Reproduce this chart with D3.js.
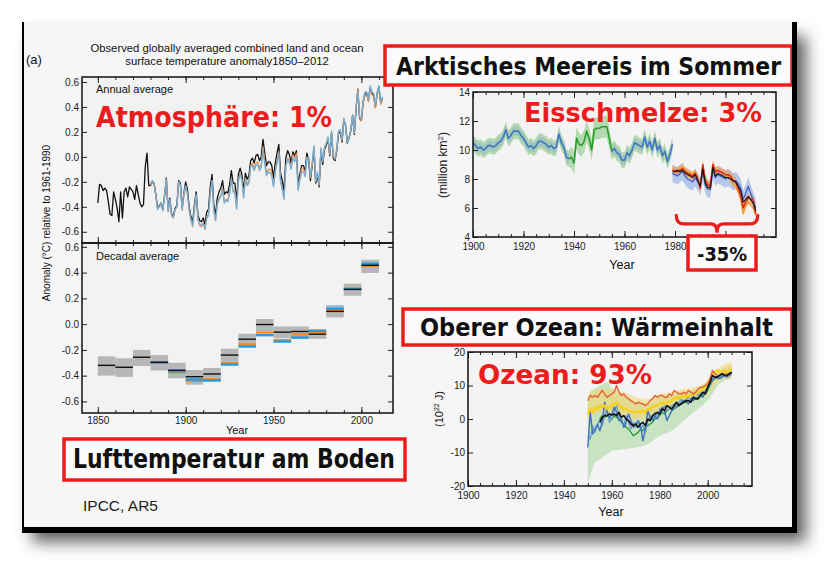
<!DOCTYPE html>
<html lang="de">
<head>
<meta charset="UTF-8">
<title>IPCC AR5 - Erwärmung</title>
<script src="https://d3js.org/d3.v7.min.js"></script>
<style>
  body { margin: 0; background: #fff; }
  svg { display: block; }
  .sans { font-family: "Liberation Sans", Arial, sans-serif; fill: #111; }
  .comic { font-family: "Comic Sans MS", "DejaVu Sans", sans-serif; font-weight: bold; }
  .axis text { font-family: "Liberation Sans", Arial, sans-serif; fill: #222; }
  .axis path.domain { display: none; }
  .axis line { stroke: #222; }
</style>
</head>
<body>
<svg></svg>
<script>
// ---------- (a) surface temperature anomaly, 1850-2012 ----------
const annualBlack = [
  -0.37, -0.22, -0.23, -0.27, -0.25, -0.27, -0.36, -0.46, -0.47, -0.28,
  -0.34, -0.41, -0.52, -0.28, -0.49, -0.28, -0.25, -0.32, -0.24, -0.26,
  -0.28, -0.34, -0.23, -0.30, -0.37, -0.40, -0.38, -0.08, 0.03, -0.23,
  -0.23, -0.20, -0.21, -0.30, -0.41, -0.39, -0.37, -0.42, -0.31, -0.17,
  -0.42, -0.33, -0.46, -0.47, -0.41, -0.39, -0.19, -0.21, -0.41, -0.29,
  -0.20, -0.26, -0.40, -0.48, -0.52, -0.38, -0.28, -0.47, -0.51, -0.52,
  -0.49, -0.54, -0.44, -0.42, -0.24, -0.14, -0.38, -0.47, -0.33, -0.28,
  -0.25, -0.19, -0.30, -0.28, -0.29, -0.22, -0.11, -0.21, -0.21, -0.35,
  -0.14, -0.09, -0.14, -0.27, -0.13, -0.18, -0.15, -0.03, -0.01, -0.05,
  0.01, 0.02, -0.03, 0.00, 0.14, 0.03, -0.07, -0.04, -0.04, -0.07,
  -0.17, -0.05, 0.03, 0.10, -0.13, -0.19, -0.27, -0.01, 0.05, 0.02,
  -0.05, 0.04, 0.01, 0.05, -0.22, -0.14, -0.07, -0.07, -0.11, 0.03,
  -0.03, -0.19, -0.07, 0.06, -0.21, -0.15, -0.24, 0.05, -0.06, 0.06,
  0.09, 0.14, 0.01, 0.19, -0.01, -0.03, 0.05, 0.19, 0.20, 0.12,
  0.30, 0.25, 0.11, 0.15, 0.21, 0.33, 0.18, 0.39, 0.54, 0.31,
  0.29, 0.44, 0.50, 0.51, 0.45, 0.55, 0.51, 0.49, 0.40, 0.51,
  0.56, 0.43, 0.47
];
// these two start in 1880
const annualOrange = [
  -0.23, -0.21, -0.21, -0.31, -0.41, -0.40, -0.38, -0.43, -0.32, -0.18,
  -0.44, -0.35, -0.47, -0.49, -0.42, -0.40, -0.20, -0.23, -0.43, -0.30,
  -0.24, -0.30, -0.43, -0.51, -0.56, -0.42, -0.31, -0.50, -0.55, -0.56,
  -0.53, -0.58, -0.48, -0.46, -0.29, -0.19, -0.42, -0.51, -0.38, -0.33,
  -0.31, -0.25, -0.36, -0.34, -0.35, -0.28, -0.17, -0.27, -0.27, -0.41,
  -0.18, -0.13, -0.18, -0.31, -0.17, -0.22, -0.19, -0.07, -0.05, -0.09,
  -0.05, -0.04, -0.09, -0.06, 0.08, -0.03, -0.13, -0.10, -0.10, -0.13,
  -0.23, -0.11, -0.03, 0.04, -0.19, -0.25, -0.33, -0.07, -0.01, -0.04,
  -0.08, 0.02, -0.01, 0.03, -0.25, -0.17, -0.09, -0.10, -0.13, 0.00,
  -0.01, -0.17, -0.06, 0.08, -0.20, -0.13, -0.23, 0.07, -0.04, 0.07,
  0.10, 0.15, 0.02, 0.20, 0.00, -0.02, 0.06, 0.20, 0.21, 0.13,
  0.31, 0.25, 0.12, 0.16, 0.21, 0.34, 0.19, 0.40, 0.55, 0.32,
  0.29, 0.43, 0.49, 0.50, 0.44, 0.53, 0.50, 0.48, 0.39, 0.50,
  0.54, 0.42, 0.46
];
const annualBlue = [
  -0.22, -0.19, -0.22, -0.31, -0.42, -0.40, -0.37, -0.43, -0.30, -0.18,
  -0.43, -0.34, -0.47, -0.48, -0.42, -0.40, -0.20, -0.22, -0.42, -0.30,
  -0.23, -0.29, -0.42, -0.50, -0.55, -0.40, -0.30, -0.50, -0.54, -0.54,
  -0.54, -0.58, -0.49, -0.47, -0.30, -0.19, -0.43, -0.51, -0.38, -0.34,
  -0.32, -0.26, -0.37, -0.35, -0.36, -0.30, -0.18, -0.28, -0.29, -0.42,
  -0.20, -0.14, -0.19, -0.33, -0.18, -0.23, -0.21, -0.08, -0.07, -0.11,
  -0.07, -0.06, -0.11, -0.08, 0.05, -0.06, -0.15, -0.12, -0.13, -0.15,
  -0.24, -0.12, -0.05, 0.03, -0.20, -0.26, -0.34, -0.08, -0.02, -0.05,
  -0.10, -0.01, -0.04, 0.00, -0.27, -0.19, -0.12, -0.12, -0.16, -0.02,
  0.00, -0.16, -0.05, 0.09, -0.19, -0.12, -0.22, 0.07, -0.03, 0.08,
  0.11, 0.16, 0.03, 0.21, 0.01, -0.01, 0.07, 0.21, 0.22, 0.14,
  0.30, 0.26, 0.11, 0.15, 0.22, 0.33, 0.19, 0.39, 0.53, 0.32,
  0.31, 0.45, 0.52, 0.52, 0.46, 0.57, 0.52, 0.51, 0.41, 0.52,
  0.57, 0.44, 0.48
];

const decades   = [1850, 1860, 1870, 1880, 1890, 1900, 1910, 1920, 1930, 1940, 1950, 1960, 1970, 1980, 1990, 2000];
const decBlack  = [-0.32, -0.335, -0.257, -0.296, -0.358, -0.408, -0.387, -0.24, -0.117, -0.003, -0.062, -0.057, -0.078, 0.099, 0.27, 0.457];
const decOrange = [null, null, null, -0.30, -0.374, -0.44, -0.43, -0.30, -0.158, -0.065, -0.125, -0.08, -0.062, 0.105, 0.275, 0.452];
const decBlue   = [null, null, null, -0.298, -0.366, -0.43, -0.436, -0.314, -0.174, -0.086, -0.135, -0.104, -0.052, 0.12, 0.273, 0.47];
const decLow    = [-0.40, -0.41, -0.325, -0.36, -0.42, -0.47, -0.45, -0.29, -0.17, -0.057, -0.11, -0.114, -0.114, 0.052, 0.22, 0.397];
const decHigh   = [-0.25, -0.265, -0.20, -0.24, -0.30, -0.356, -0.34, -0.19, -0.075, 0.04, -0.018, -0.018, -0.04, 0.148, 0.314, 0.50];
const tempTicks = [-0.6, -0.4, -0.2, 0.0, 0.2, 0.4, 0.6];
const tempYearTicks = [1850, 1900, 1950, 2000];

// ---------- Arctic summer sea ice extent (million km2) ----------
const iceBlue = [   // 1900-1979, gap where only the green record exists
  10.5, 10.3, 10.1, 10.2, 10.0, 10.1, 10.3, 10.3, 10.2, 10.3,
  10.5, 10.6, 10.9, 11.4, 10.8, 11.0, 11.3, 11.3, 11.3, 11.0,
  10.8, 10.5, 10.2, 10.3, 10.1, 10.3, 10.6, 10.6, 10.5, 10.4,
  10.2, 10.3, 10.1, 10.2, 11.1, 10.5, 10.2, 9.5, 9.4, null,
  null, null, null, null, null, null, null, null, null, null,
  null, null, null, null, null, 9.9, 10.1, 9.8, 9.7, 9.3,
  9.3, 9.8, 9.6, 10.0, 10.5, 10.4, 10.3, 10.2, 10.9, 10.2,
  10.6, 10.0, 10.8, 10.0, 10.3, 9.6, 9.9, 9.2, 9.7, 10.4
];
const iceGreenStart = 1938;
const iceGreen = [9.4, 9.5, 9.1, 10.8, 10.4, 10.3, 10.6, 11.3, 10.8, 10.0, 11.4, 11.5, 11.5, 11.6, 11.6, 11.6, 10.8, 9.9];
const iceSatStart = 1979;
const iceSatRed = [
  8.6, 8.55, 8.5, 8.6, 8.7, 8.5, 8.4, 8.3, 8.2, 8.4,
  8.0, 7.35, 9.0, 7.9, 7.6, 7.5, 9.0, 8.5, 8.6, 8.5,
  8.4, 8.3, 8.3, 8.2, 7.9, 7.8, 7.4, 6.9, 6.0, 6.4,
  6.7, 6.6, 6.55, 5.6
];
const iceSatBlack = [
  8.5, 8.5, 8.6, 8.5, 8.6, 8.4, 8.3, 8.2, 8.1, 8.3,
  7.9, 7.5, 8.7, 7.7, 7.4, 7.4, 8.8, 8.2, 8.4, 8.3,
  8.2, 8.1, 8.1, 8.0, 7.9, 7.8, 7.5, 7.2, 6.4, 6.6,
  6.8, 6.6, 6.3, 5.8
];
const iceSatBlue = [
  8.4, 8.3, 8.2, 8.4, 8.5, 8.2, 8.0, 7.9, 7.8, 8.1,
  7.8, 7.5, 8.5, 7.6, 7.3, 7.3, 8.6, 8.1, 8.3, 8.2,
  8.1, 8.0, 8.1, 8.0, 7.8, 7.9, 7.7, 7.4, 6.6, 7.0,
  7.5, 7.0, 6.5, 6.0
];
const iceSatOrange = [
  8.7, 8.6, 8.6, 8.7, 8.8, 8.6, 8.5, 8.4, 8.3, 8.5,
  8.1, 7.4, 9.0, 8.0, 7.7, 7.6, 9.0, 8.6, 8.6, 8.5,
  8.4, 8.3, 8.2, 8.0, 7.6, 7.5, 7.1, 6.6, 5.6, 6.1,
  6.4, 6.2, 6.0, 5.5
];
const iceEarlySpread = 0.55, iceGreenSpread = 0.75, iceSatBlueSpread = 0.6, iceSatOrangeSpread = 0.32;
const iceTicks = [4, 6, 8, 10, 12, 14];
const iceYearTicks = [1900, 1920, 1940, 1960, 1980, 2000];

// ---------- upper ocean heat content (10^22 J) ----------
const oceanStart = 1950;
const oceanRed = [
  5.5, 7, 6.5, 7, 6.5, 7.5, 8.5, 7.5, 6.5, 7,
  7.5, 8, 10, 8, 7, 7.5, 6.5, 6, 5.5, 5,
  4.5, 5, 4.7, 4.5, 4, 4.5, 5.5, 6, 7, 6.5,
  7, 7, 6.5, 6.5, 7.5, 7, 8.5, 8, 7.5, 7.5,
  8, 7.5, 8.5, 8, 7.5, 8, 9, 9.5, 9.5, 10,
  10.5, 12, 14.5, 13.5, 13, 13, 13.5, 13.5, 13, 13.5, 14
];
const oceanYellow = [
  1.5, 3, 2, 3.5, 3, 4, 3.5, 4, 3, 3.5,
  4, 4.5, 5, 4, 3.5, 3, 3, 2.5, 2.5, 2,
  2, 2.5, 2, 2.5, 2, 3, 3, 3.5, 4, 4,
  4.5, 5, 4.5, 5, 5, 5.5, 6, 6.5, 6, 6.5,
  7, 6.5, 7, 7, 7.5, 7.5, 8, 8.5, 9, 9.5,
  10.5, 12, 13.5, 14, 14.5, 14, 14, 14.5, 14, 14.5, 15
];
const oceanBlue = [
  -8.5, 2, -4.5, -3, -1.5, -3.5, -1, 5, 2, 0.5,
  1.5, 3.5, 2, -0.5, 0, -2.5, -1, 1.5, -0.5, -2.5,
  -1.5, -0.5, -2, -6.5, -3, 2.5, 0.5, -0.5, 1, 0,
  2, 3.5, 2.5, -0.5, 1, 2.5, 3, 3.5, 4, 5,
  5.5, 5, 4.5, 6, 5.5, 6.5, 6, 7, 6.5, 8,
  9, 10.5, 11.5, 12, 12.5, 12, 12.5, 13, 12.5, 13, 13.5
];
const oceanSteel = [
  -5, -6, -2, -4, -2, 0, -2, 1, 3, -1,
  0, 2, 4, 1, -1, -2, 1, -1, -3, -1,
  -2.5, -1, -3, -2, -4, -1, 1, 0, 2, 1,
  3, 2, 4, 2.5, 3, 4, 4.5, 4, 5, 6,
  5, 6, 6.5, 6, 7, 7.5, 7, 8, 7.5, 8.5,
  9.5, 10, 12, 12.5, 12, 12.5, 13, 13, 13.5, 13, 14
];
const oceanGreenStart = 1955;
const oceanGreen = [
  0, 1, 0.5, 1, 0.5,
  0, 1, 0.5, 0, -1, -1.5, -2.5, -3, -4, -5,
  -4.5, -4, -3, -3.5, -2.5, -2, -1.5, -1, 0, 0.5,
  1, 2, 1.5, 2.5, 3, 3, 3.5, 4, 4.5, 4.5,
  5, 5, 5.5, 5.5, 6, 6, 6.5, 7, 7, 7.5,
  8.5, 10, 11.5, 12.5, 12.5, 12.5, 13, 13, 13, 13.5, 14
];
const oceanBlackStart = 1955;
const oceanBlack = [
  -1, 0.5, 1, 1, 1.5,
  1.2, 1.5, 1, 2, 0.5, 1, 0, -0.5, -1.5, -2,
  -1.5, -2.5, -1.5, -1, -2, 0, -0.5, 1, 1.5, 2,
  1.5, 3, 2.5, 4, 3.5, 3, 4, 5, 4, 4.5,
  5, 5.5, 5.5, 5, 6.5, 6, 6, 7, 8, 7.5,
  9.5, 11, 13, 12.5, 12.5, 13, 13.5, 13, 13, 13.5, 14
];
const oceanBandYears = [1950, 1951, 1953, 1955, 1958, 1960, 1965, 1970, 1975, 1980, 1985, 1990, 1995, 2000, 2005, 2010];
const oceanGreenHigh = [4, 8, 9, 10, 11, 9, 7, 5, 4.5, 6.5, 7, 8, 9, 11, 14.5, 16];
const oceanGreenLow  = [-19, -17, -13, -12, -10.5, -9.5, -9, -8.5, -7.5, -5, -3.5, -0.5, 2.5, 5.5, 10.5, 12];
const oceanYellowHigh = [7, 8, 8.5, 9, 9, 9, 8, 6.5, 6, 7.5, 8, 9, 9.5, 11.5, 15.5, 17];
const oceanYellowLow  = [0, 1, 1.5, 2, 2, 2, 1, 0, 0, 1.5, 3, 4.5, 5.5, 7.5, 11.5, 12.5];
const oceanTicks = [-20, -10, 0, 10, 20];
const oceanYearTicks = [1900, 1920, 1940, 1960, 1980, 2000];

// ================= drawing =================
const W = 839, H = 576;
const RED = "#ec1c1c";
const svg = d3.select("svg").attr("width", W).attr("height", H);
const defs = svg.append("defs");

defs.append("filter").attr("id", "blur")
    .attr("x", "-20%").attr("y", "-20%").attr("width", "140%").attr("height", "140%")
    .append("feGaussianBlur").attr("stdDeviation", 8);

// frame + drop shadow
svg.append("rect").attr("x", 32).attr("y", 36).attr("width", 774).attr("height", 506)
    .attr("fill", "#5e5e5e").attr("filter", "url(#blur)");
svg.append("rect").attr("x", 22).attr("y", 22).attr("width", 774).attr("height", 510)
    .attr("fill", "#f6f6f6");

function series(start, values) {
    return values.map((v, i) => [start + i, v]);
}
function clip(id, x, y, w, h) {
    defs.append("clipPath").attr("id", id).append("rect")
        .attr("x", x).attr("y", y).attr("width", w).attr("height", h);
}
function drawLine(g, data, line, color, width) {
    g.append("path").datum(data).attr("d", line)
        .attr("fill", "none").attr("stroke", color)
        .attr("stroke-width", width).attr("stroke-linejoin", "round");
}
// inward ticks on all four sides of a box
function boxAxes(x, y, yTicks, xMajor, xMinor, fontSize, fmt, xPad, xFmt) {
    const [x0, x1] = x.range();
    const [y0, y1] = y.range();  // y0 bottom, y1 top
    const lab = svg.append("g").attr("class", "axis").style("font-size", fontSize + "px");
    lab.append("g").attr("transform", `translate(${x0},0)`)
        .call(d3.axisLeft(y).tickValues(yTicks).tickSize(-5).tickPadding(3).tickFormat(fmt));
    lab.append("g").attr("transform", `translate(${x1},0)`)
        .call(d3.axisRight(y).tickValues(yTicks).tickSize(-5).tickFormat(""));
    lab.append("g").attr("transform", `translate(0,${y1})`)
        .call(d3.axisTop(x).tickValues(xMinor).tickSize(-3).tickFormat(""));
    lab.append("g").attr("transform", `translate(0,${y1})`)
        .call(d3.axisTop(x).tickValues(xMajor).tickSize(-6).tickFormat(""));
    lab.append("g").attr("transform", `translate(0,${y0})`)
        .call(d3.axisBottom(x).tickValues(xMinor).tickSize(-3).tickFormat(""));
    lab.append("g").attr("transform", `translate(0,${y0})`)
        .call(d3.axisBottom(x).tickValues(xMajor).tickSize(-6).tickPadding(xPad).tickFormat(xFmt));
    return lab;
}
function box(x, y, width) {
    const [x0, x1] = x.range();
    const [y0, y1] = y.range();
    svg.append("rect").attr("x", x0).attr("y", y1).attr("width", x1 - x0).attr("height", y0 - y1)
        .attr("fill", "none").attr("stroke", "#111").attr("stroke-width", width);
}
const yearFmt = d => String(d);

// ---------------- (a) temperature ----------------
const xA = d3.scaleLinear().domain([1841, 2018]).range([82, 393]);
const yTop = d3.scaleLinear().domain([-0.69, 0.64]).range([243, 77]);
const yBot = d3.scaleLinear().domain([-0.69, 0.63]).range([413, 243]);
const fmt1 = d => d.toFixed(1);

svg.append("rect").attr("x", 82).attr("y", 77).attr("width", 311).attr("height", 336).attr("fill", "#f2f2f2");
clip("clipTop", 82, 77, 311, 166);
clip("clipBot", 82, 243, 311, 170);

const gTop = svg.append("g").attr("clip-path", "url(#clipTop)");
const lineTop = d3.line().x(d => xA(d[0])).y(d => yTop(d[1]));
drawLine(gTop, series(1850, annualBlack), lineTop, "#111", 1.3);
drawLine(gTop, series(1880, annualOrange), lineTop, "#e08a4a", 1.2);
drawLine(gTop, series(1880, annualBlue), lineTop, "#72aed6", 1.3);

const gBot = svg.append("g").attr("clip-path", "url(#clipBot)");
const dec = decades.map((d, i) => ({
    start: d, black: decBlack[i], orange: decOrange[i], blue: decBlue[i], low: decLow[i], high: decHigh[i]
}));
gBot.selectAll("rect.dec").data(dec).join("rect").attr("class", "dec")
    .attr("x", d => xA(d.start)).attr("width", d => xA(d.start + 10) - xA(d.start))
    .attr("y", d => yBot(d.high)).attr("height", d => yBot(d.low) - yBot(d.high))
    .attr("fill", "#b7b7b7");
[["orange", "#ee8a2a", 2.4], ["blue", "#2a9ad6", 2.4], ["black", "#111", 1.4]].forEach(([key, color, w]) => {
    gBot.selectAll("line." + key).data(dec.filter(d => d[key] !== null)).join("line").attr("class", key)
        .attr("x1", d => xA(d.start)).attr("x2", d => xA(d.start + 10))
        .attr("y1", d => yBot(d[key])).attr("y2", d => yBot(d[key]))
        .attr("stroke", color).attr("stroke-width", w);
});

boxAxes(xA, yTop, tempTicks, tempYearTicks, d3.range(1850, 2011, 10), 8, fmt1, 4, "");
boxAxes(xA, yBot, tempTicks, tempYearTicks, d3.range(1850, 2011, 10), 8, fmt1, 4, yearFmt);
box(xA, yTop, 1.5);
box(xA, yBot, 1.5);

svg.append("text").attr("class", "sans").attr("x", 26).attr("y", 64).style("font-size", "13px").text("(a)");
svg.append("text").attr("class", "sans").attr("x", 227).attr("y", 51.5).attr("text-anchor", "middle")
    .style("font-size", "11.3px").text("Observed globally averaged combined land and ocean");
svg.append("text").attr("class", "sans").attr("x", 227).attr("y", 65).attr("text-anchor", "middle")
    .style("font-size", "11.3px").text("surface temperature anomaly1850\u20132012");
svg.append("text").attr("class", "sans").attr("x", 96).attr("y", 93).style("font-size", "11px").text("Annual average");
svg.append("text").attr("class", "sans").attr("x", 96).attr("y", 260).style("font-size", "11px").text("Decadal average");
svg.append("text").attr("class", "sans").attr("x", 237).attr("y", 434).attr("text-anchor", "middle")
    .style("font-size", "11px").text("Year");
svg.append("text").attr("class", "sans").attr("transform", "translate(50,223) rotate(-90)")
    .attr("text-anchor", "middle").style("font-size", "10px").text("Anomaly (\u00b0C) relative to 1961-1990");

// ---------------- Arctic sea ice ----------------
const xB = d3.scaleLinear().domain([1900, 2020]).range([473, 776]);
const yB = d3.scaleLinear().domain([4, 14]).range([237, 92]);
svg.append("rect").attr("x", 473).attr("y", 92).attr("width", 303).attr("height", 145).attr("fill", "#f3f3f3");
clip("clipIce", 473, 92, 303, 145);
const gIce = svg.append("g").attr("clip-path", "url(#clipIce)");

const early = iceBlue.map((v, i) => {
    const yr = 1900 + i;
    const gi = yr - iceGreenStart;
    return [yr, v !== null ? v : iceGreen[gi], v === null];
});
const areaB = (lo, hi) => d3.area().x(d => xB(d[0])).y0(d => yB(lo(d))).y1(d => yB(hi(d)));
gIce.append("path").datum(early)
    .attr("d", areaB(d => d[1] - (d[2] ? iceGreenSpread : iceEarlySpread), d => d[1] + (d[2] ? iceGreenSpread : iceEarlySpread)))
    .attr("fill", "#9fcf98").attr("opacity", 0.75);
gIce.append("path").datum(early)
    .attr("d", areaB(d => d[1] - iceEarlySpread * 0.6, d => d[1] + iceEarlySpread * 0.6).defined(d => !d[2]))
    .attr("fill", "#7fa6d6").attr("opacity", 0.35);

const sat = iceSatRed.map((v, i) => [iceSatStart + i, v, iceSatBlue[i]]);
gIce.append("path").datum(sat)
    .attr("d", areaB(d => d[2] - iceSatBlueSpread, d => d[2] + iceSatBlueSpread))
    .attr("fill", "#a9bfe8").attr("opacity", 0.85);
gIce.append("path").datum(sat)
    .attr("d", areaB(d => d[1] - iceSatOrangeSpread, d => d[1] + iceSatOrangeSpread))
    .attr("fill", "#f0a060").attr("opacity", 0.7);

const lineB = d3.line().defined(d => d[1] !== null).x(d => xB(d[0])).y(d => yB(d[1]));
drawLine(gIce, series(iceGreenStart, iceGreen), lineB, "#27a02a", 1.6);
drawLine(gIce, series(1900, iceBlue), lineB, "#3f78c0", 1.6);
drawLine(gIce, series(iceSatStart, iceSatBlue), lineB, "#3d63c9", 1.3);
drawLine(gIce, series(iceSatStart, iceSatOrange), lineB, "#f7941d", 1.4);
drawLine(gIce, series(iceSatStart, iceSatRed), lineB, "#d62a1c", 1.5);
drawLine(gIce, series(iceSatStart, iceSatBlack), lineB, "#111", 1.1);

// the 2000 label sits under the "-35%" box in the original
boxAxes(xB, yB, iceTicks, iceYearTicks, d3.range(1900, 2020, 5), 12, yearFmt, 6, d => d < 2000 ? String(d) : "");
box(xB, yB, 1.5);
svg.append("text").attr("class", "sans").attr("x", 622).attr("y", 269).attr("text-anchor", "middle")
    .style("font-size", "12.5px").text("Year");
svg.append("text").attr("class", "sans").attr("transform", "translate(447,165) rotate(-90)")
    .attr("text-anchor", "middle").style("font-size", "12px")
    .html('(million km<tspan dy="-4" style="font-size:8px">2</tspan><tspan dy="4">)</tspan>');

// ---------------- ocean heat content ----------------
const xC = d3.scaleLinear().domain([1900, 2018.5]).range([468, 752]);
const yC = d3.scaleLinear().domain([-20, 20]).range([486, 352]);
svg.append("rect").attr("x", 468).attr("y", 352).attr("width", 284).attr("height", 134).attr("fill", "#f3f3f3");
clip("clipOcean", 468, 352, 284, 134);
const gOc = svg.append("g").attr("clip-path", "url(#clipOcean)");

const bandC = (hi, lo) => oceanBandYears.map((yr, i) => [yr, lo[i], hi[i]]);
const areaC = d3.area().curve(d3.curveMonotoneX).x(d => xC(d[0])).y0(d => yC(d[1])).y1(d => yC(d[2]));
gOc.append("path").datum(bandC(oceanGreenHigh, oceanGreenLow)).attr("d", areaC)
    .attr("fill", "#b3dbab").attr("opacity", 0.7);
gOc.append("path").datum(bandC(oceanYellowHigh, oceanYellowLow)).attr("d", areaC)
    .attr("fill", "#f9d36a").attr("opacity", 0.55);

const lineC = d3.line().x(d => xC(d[0])).y(d => yC(d[1]));
drawLine(gOc, series(oceanGreenStart, oceanGreen), lineC, "#2f9a35", 1.4);
drawLine(gOc, series(oceanStart, oceanSteel), lineC, "#6f9fce", 1.4);
drawLine(gOc, series(oceanStart, oceanBlue), lineC, "#3f72bd", 1.4);
drawLine(gOc, series(oceanStart, oceanYellow), lineC, "#f4d21a", 2.4);
drawLine(gOc, series(oceanStart, oceanRed), lineC, "#e2673f", 1.5);
drawLine(gOc, series(oceanBlackStart, oceanBlack), lineC, "#111", 1.6);

boxAxes(xC, yC, oceanTicks, oceanYearTicks, d3.range(1900, 2018, 5), 11.5, yearFmt, 6, yearFmt);
box(xC, yC, 1.5);
svg.append("text").attr("class", "sans").attr("x", 611).attr("y", 516).attr("text-anchor", "middle")
    .style("font-size", "12.5px").text("Year");
svg.append("text").attr("class", "sans").attr("transform", "translate(443,409) rotate(-90)")
    .attr("text-anchor", "middle").style("font-size", "11px")
    .html('(10<tspan dy="-4" style="font-size:7px">22</tspan><tspan dy="4"> J)</tspan>');

// ---------------- overlay labels ----------------
function redLabel(x, y, size, len, txt) {
    svg.append("text").attr("class", "comic").attr("x", x).attr("y", y)
        .attr("textLength", len).attr("lengthAdjust", "spacingAndGlyphs")
        .style("font-size", size + "px").attr("fill", RED).text(txt);
}
function boxLabel(bx, by, bw, bh, tx, ty, size, len, txt) {
    svg.append("rect").attr("x", bx).attr("y", by).attr("width", bw).attr("height", bh)
        .attr("fill", "#fbfbfb").attr("stroke", RED).attr("stroke-width", 3.5);
    svg.append("text").attr("class", "comic").attr("x", tx).attr("y", ty)
        .attr("textLength", len).attr("lengthAdjust", "spacingAndGlyphs")
        .style("font-size", size + "px").attr("fill", "#111").text(txt);
}
redLabel(96, 127, 28, 236, "Atmosph\u00e4re: 1%");
redLabel(524, 121.5, 26, 238, "Eisschmelze: 3%");
redLabel(478, 383.5, 26, 174, "Ozean: 93%");

boxLabel(385, 46, 407, 39, 396, 75, 25, 385, "Arktisches Meereis im Sommer");
boxLabel(403, 309, 389, 36, 420, 336, 25, 353, "Oberer Ozean: W\u00e4rmeinhalt");
boxLabel(64, 439, 341, 41, 73, 468, 27, 322, "Lufttemperatur am Boden");
boxLabel(688, 236, 68, 34, 697, 261, 20, 50, "-35%");

// brace over the satellite era
const b0 = xB(1980.5), b1 = xB(2012.8), bm = (b0 + b1) / 2;
const bt = yB(5.5), bc = yB(4.9), bp = yB(4.3);
svg.append("path")
    .attr("d", `M${b0},${bt} Q${b0},${bc} ${b0 + 8},${bc} L${bm - 6},${bc} Q${bm},${bc} ${bm},${bp}` +
               ` Q${bm},${bc} ${bm + 6},${bc} L${b1 - 8},${bc} Q${b1},${bc} ${b1},${bt}`)
    .attr("fill", "none").attr("stroke", RED).attr("stroke-width", 3.2).attr("stroke-linecap", "round");

svg.append("text").attr("x", 83).attr("y", 511).style("font-family", "'Liberation Sans', Arial, sans-serif")
    .style("font-size", "15.5px").attr("fill", "#222").text("IPCC, AR5");

// frame borders
svg.append("rect").attr("x", 22).attr("y", 22).attr("width", 2).attr("height", 511).attr("fill", "#000");
svg.append("rect").attr("x", 792).attr("y", 22).attr("width", 5).attr("height", 511).attr("fill", "#000");
svg.append("rect").attr("x", 22).attr("y", 527).attr("width", 775).attr("height", 6).attr("fill", "#000");
</script>
</body>
</html>
